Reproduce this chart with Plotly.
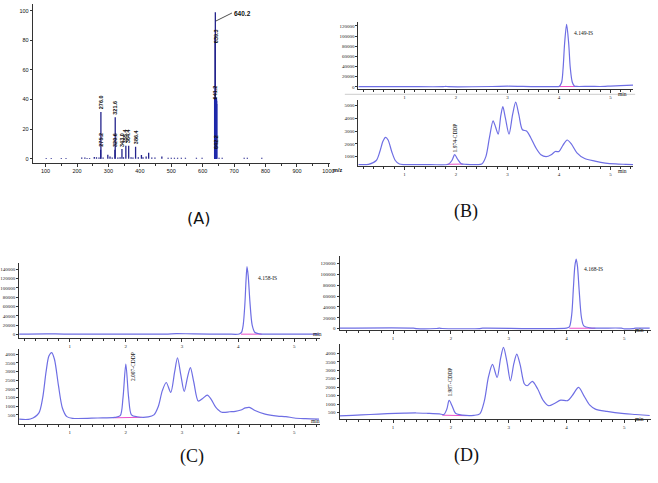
import plotly.graph_objects as go

W, H = 658, 483

# ---------------- DATA ----------------
# (A) mass spectrum: m/z and relative intensity
ms_mz = [102, 118, 150, 165, 215, 225, 232, 240, 255, 262, 270, 275.2, 276.0, 283, 298, 305, 312,
         320.6, 321.6, 330, 337, 343.0, 348, 355.4, 364.4, 372, 378, 386.4, 395, 405, 410, 420, 428,
         438, 448, 470, 490, 500, 510, 520, 532, 545, 580, 598, 638.4, 639.3, 640.2, 642.2, 643.2,
         652, 662, 732, 742, 788]
ms_int = [0.5, 0.5, 0.5, 0.5, 0.8, 0.8, 0.5, 0.5, 1.2, 1.0, 0.8, 6.0, 31.5, 0.8, 2.7, 1.5, 0.8,
          6.0, 28.0, 0.8, 1.0, 6.5, 1.0, 8.8, 8.8, 1.0, 0.8, 8.0, 1.0, 2.5, 1.0, 1.5, 4.0,
          0.8, 0.8, 1.5, 0.6, 0.6, 0.6, 0.6, 0.6, 0.6, 0.6, 0.6, 2.0, 82.0, 99.0, 8.0, 3.0,
          0.6, 0.6, 0.6, 0.6, 0.6]
ms_cluster_mz = [640.6, 641.0, 641.2, 641.5, 641.8]
ms_cluster_int = [41.0, 40.5, 40.0, 39.0, 37.0]
ms_labels = ["276.0", "275.2", "321.6", "320.6", "343.0", "355.4", "364.4", "386.4"]
ms_label_mz = [276.0, 275.2, 321.6, 320.6, 343.0, 355.4, 364.4, 386.4]
ms_label_y = [31.5, 6.0, 28.0, 6.0, 6.0, 8.8, 8.8, 8.0]
ms_main_labels = ["639.3", "641.2", "642.2"]
ms_main_label_y = [83, 45, 11.5]

# (B) chromatograms
b_is_t = [0.10, 1.00, 1.75, 1.80, 1.85, 2.70, 3.00, 3.30, 3.60, 3.95, 4.00, 4.05, 4.08, 4.11, 4.149,
          4.19, 4.22, 4.26, 4.30, 4.35, 4.60, 4.80, 5.00, 5.20, 5.44]
b_is_y = [300, 300, 300, 900, 300, 600, 1200, 700, 300, 300, 600, 8000, 35000, 85000, 123000,
          85000, 38000, 9000, 1800, 700, 1000, 600, 1500, 2500, 3500]
b_t = [0.10, 0.30, 0.45, 0.52, 0.58, 0.63, 0.68, 0.75, 0.82, 0.90, 1.00, 1.50, 1.85, 1.92, 1.974,
       2.03, 2.10, 2.20, 2.40, 2.50, 2.58, 2.65, 2.72, 2.77, 2.82, 2.87, 2.91, 2.96, 3.03, 3.10,
       3.16, 3.22, 3.29, 3.37, 3.45, 3.55, 3.65, 3.75, 3.85, 3.93, 4.00, 4.08, 4.16, 4.24, 4.35,
       4.50, 4.70, 4.90, 5.10, 5.30, 5.44]
b_y = [380, 400, 700, 1400, 2200, 2500, 2300, 1400, 700, 420, 380, 380, 400, 700, 1150,
       800, 450, 400, 380, 420, 1000, 2500, 3800, 3300, 2750, 4200, 4900, 4000, 2750, 4300,
       5250, 4300, 3100, 3000, 2500, 1700, 1150, 1000, 1150, 1400, 1400, 1900, 2300, 2000, 1300,
       850, 650, 500, 430, 400, 380]
b_is_base_t = [4.00, 4.35]
b_is_base_y = [500, 700]
b_base_t = [1.82, 2.13]
b_base_y = [400, 420]

# (C) chromatograms
c_is_t = [0.10, 0.60, 0.90, 2.70, 2.90, 3.20, 3.80, 4.02, 4.06, 4.09, 4.12, 4.14, 4.158, 4.18,
          4.21, 4.25, 4.30, 4.38, 4.50, 5.00, 5.44]
c_is_y = [500, 1000, 500, 500, 1500, 800, 500, 600, 4000, 20000, 65000, 115000, 146000, 125000,
          70000, 20000, 4000, 1000, 500, 500, 300]
c_t = [0.10, 0.30, 0.45, 0.52, 0.58, 0.63, 0.68, 0.73, 0.80, 0.87, 0.95, 1.05, 1.50, 1.80, 1.90,
       1.95, 2.00, 2.05, 2.10, 2.20, 2.40, 2.50, 2.58, 2.65, 2.72, 2.80, 2.87, 2.92, 2.98, 3.04,
       3.10, 3.15, 3.21, 3.29, 3.37, 3.45, 3.52, 3.60, 3.71, 3.85, 3.95, 4.05, 4.13, 4.20, 4.30,
       4.48, 4.70, 4.85, 5.00, 5.20, 5.44]
c_y = [250, 260, 600, 1500, 3000, 3900, 4100, 3700, 2200, 900, 400, 300, 320, 350, 450,
       1500, 3430, 1500, 500, 390, 380, 500, 1000, 1900, 2370, 1800, 3000, 3800, 2800, 1850,
       2700, 3230, 2400, 1300, 1450, 1640, 1400, 950, 650, 680, 700, 780, 900, 930, 750,
       540, 430, 400, 320, 280, 250]
c_is_base_t = [4.05, 4.42]
c_is_base_y = [300, 300]
c_base_t = [1.78, 2.28]
c_base_y = [330, 360]

# (D) chromatograms
d_is_t = [0.07, 1.35, 1.40, 1.75, 1.80, 1.85, 2.50, 2.55, 4.00, 4.05, 4.09, 4.12, 4.145, 4.168,
          4.19, 4.22, 4.26, 4.30, 4.40, 4.60, 4.95, 5.00, 5.15, 5.20, 5.44]
d_is_y = [800, 800, 0, 200, 800, 200, 100, 800, 800, 3000, 25000, 75000, 115000, 128000,
          115000, 70000, 20000, 5000, 1500, 1000, 900, -300, 0, 800, 800]
d_t = [0.07, 0.30, 0.60, 0.90, 1.20, 1.40, 1.60, 1.80, 1.88, 1.93, 1.97, 2.02, 2.08, 2.20, 2.40,
       2.50, 2.58, 2.65, 2.72, 2.80, 2.86, 2.91, 2.97, 3.03, 3.09, 3.14, 3.20, 3.27, 3.32, 3.41,
       3.50, 3.60, 3.69, 3.80, 3.90, 4.02, 4.10, 4.21, 4.30, 4.40, 4.50, 4.70, 5.00, 5.20, 5.44]
d_y = [300, 330, 380, 430, 460, 470, 450, 420, 380, 700, 1210, 900, 450, 340, 330,
       420, 1200, 2600, 3340, 2570, 3700, 4350, 3500, 2370, 3400, 3950, 3300, 2200, 2080, 2340,
       1900, 1200, 900, 1050, 1230, 1200, 1500, 1980, 1500, 950, 700, 560, 430, 380, 320]
d_is_base_t = [4.05, 4.50]
d_is_base_y = [700, 700]
d_base_t = [1.85, 2.27]
d_base_y = [340, 310]

time_ticks = [1, 2, 3, 4, 5]

# ---------------- LAYOUT HELPERS ----------------
def dx(a, b):
    return [a / W, b / W]

def dy(top, bottom):
    return [1 - bottom / H, 1 - top / H]

AX = "#333333"
BLUE = "rgb(110,110,228)"
PINK = "rgb(235,80,200)"
NAVY = "rgb(35,35,140)"
TFONT = dict(family="Liberation Serif", size=5, color="#222")

def xaxis(domain, rng, anchor, tickvals, minor_dtick, font=TFONT):
    return dict(domain=domain, range=rng, anchor=anchor, showgrid=False, zeroline=False,
                showline=True, linecolor=AX, linewidth=1, ticks="outside", ticklen=3,
                tickcolor=AX, tickwidth=1, tickvals=tickvals, tickfont=font, tickformat="d",
                minor=dict(ticks="outside", ticklen=2, dtick=minor_dtick, tickcolor=AX),
                fixedrange=True)

def yaxis(domain, rng, anchor, tickvals, font=TFONT):
    return dict(domain=domain, range=rng, anchor=anchor, showgrid=False, zeroline=False,
                showline=True, linecolor=AX, linewidth=1, ticks="outside", ticklen=2,
                tickcolor=AX, tickwidth=1, tickvals=tickvals, tickfont=font, tickformat="d",
                fixedrange=True)

fig = go.Figure()

# ---------------- (A) ----------------
def stems(xs, ys):
    sx, sy = [], []
    for x, y in zip(xs, ys):
        sx += [x, x, None]
        sy += [0, y, None]
    return sx, sy

sx, sy = stems(ms_mz, ms_int)
fig.add_trace(go.Scatter(x=sx, y=sy, mode="lines", line=dict(color=NAVY, width=1.3),
                         xaxis="x", yaxis="y", hoverinfo="skip", showlegend=False))
cx, cy = stems(ms_cluster_mz, ms_cluster_int)
fig.add_trace(go.Scatter(x=cx, y=cy, mode="lines", line=dict(color="rgb(30,40,170)", width=3),
                         xaxis="x", yaxis="y", hoverinfo="skip", showlegend=False))

# ---------------- chromatogram traces ----------------
def curve(t, y, xa, ya, color=BLUE, width=1.2, spline=True):
    fig.add_trace(go.Scatter(x=t, y=y, mode="lines",
                             line=dict(color=color, width=width,
                                       shape="spline" if spline else "linear", smoothing=0.8),
                             xaxis=xa, yaxis=ya, hoverinfo="skip", showlegend=False))

curve(b_is_base_t, b_is_base_y, "x2", "y2", PINK, 1, False)
curve(b_is_t, b_is_y, "x2", "y2")
curve(b_base_t, b_base_y, "x3", "y3", PINK, 1, False)
curve(b_t, b_y, "x3", "y3")
curve(c_is_base_t, c_is_base_y, "x4", "y4", PINK, 1, False)
curve(c_is_t, c_is_y, "x4", "y4")
curve(c_base_t, c_base_y, "x5", "y5", PINK, 1, False)
curve(c_t, c_y, "x5", "y5")
curve(d_is_base_t, d_is_base_y, "x6", "y6", PINK, 1, False)
curve(d_is_t, d_is_y, "x6", "y6")
curve(d_base_t, d_base_y, "x7", "y7", PINK, 1, False)
curve(d_t, d_y, "x7", "y7")

AFONT = dict(family="Liberation Sans", size=5.5, color="#111")
layout = dict(
    width=W, height=H, autosize=False, margin=dict(l=0, r=0, t=0, b=0, pad=0),
    paper_bgcolor="white", plot_bgcolor="white", showlegend=False,
    xaxis=xaxis(dx(32, 332), [59, 1005], "y", [100, 200, 300, 400, 500, 600, 700, 800, 900, 1000], 50,
                dict(family="Liberation Sans", size=5.5, color="#111")),
    yaxis=yaxis(dy(4, 163), [-2.7, 104.5], "x", [0, 20, 40, 60, 80, 100],
                dict(family="Liberation Sans", size=5.5, color="#111")),
    xaxis2=xaxis(dx(360.7, 638), [0.103, 5.443], "y2", time_ticks, 0.2),
    yaxis2=yaxis(dy(21.7, 88.7), [-3344, 128459], "x2", [0, 20000, 40000, 60000, 80000, 100000, 120000]),
    xaxis3=xaxis(dx(360.7, 638), [0.103, 5.443], "y3", time_ticks, 0.2),
    yaxis3=yaxis(dy(100, 166), [296, 5440], "x3", [1000, 2000, 3000, 4000, 5000]),
    xaxis4=xaxis(dx(18.3, 322), [0.100, 5.459], "y4", time_ticks, 0.2),
    yaxis4=yaxis(dy(264, 338.3), [-7108, 152923], "x4",
                 [0, 20000, 40000, 60000, 80000, 100000, 120000, 140000]),
    xaxis5=xaxis(dx(18.3, 322), [0.100, 5.459], "y5", time_ticks, 0.2),
    yaxis5=yaxis(dy(350, 425), [-35, 4291], "x5", [500, 1000, 1500, 2000, 2500, 3000, 3500, 4000]),
    xaxis6=xaxis(dx(341.7, 656), [0.074, 5.463], "y6", time_ticks, 0.2),
    yaxis6=yaxis(dy(256.7, 331), [-3124, 133415], "x6", [0, 20000, 40000, 60000, 80000, 100000, 120000]),
    xaxis7=xaxis(dx(341.7, 656), [0.074, 5.463], "y7", time_ticks, 0.2),
    yaxis7=yaxis(dy(345, 420), [106, 4534], "x7", [500, 1000, 1500, 2000, 2500, 3000, 3500, 4000]),
)

ann = []
# mass spectrum labels
for txt, x, y in zip(ms_labels, ms_label_mz, ms_label_y):
    ann.append(dict(x=x, y=y + 0.5, xref="x", yref="y", text="<b>%s</b>" % txt, showarrow=False,
                    textangle=-90, yanchor="bottom", font=AFONT))
for txt, y in zip(ms_main_labels, ms_main_label_y):
    ann.append(dict(x=640.2, y=y, xref="x", yref="y", text="<b>%s</b>" % txt, showarrow=False,
                    textangle=-90, font=AFONT))
ann.append(dict(x=642, y=93, xref="x", yref="y", text="<b>640.2</b>", showarrow=True, arrowhead=0,
                arrowwidth=0.8, arrowcolor="#222", ax=16, ay=-8, xanchor="left",
                font=dict(family="Liberation Sans", size=6.5, color="#111")))
ann.append(dict(x=340 / W, y=1 - 170 / H, xref="paper", yref="paper", text="<b>m/z</b>",
                showarrow=False, font=AFONT))

SF = dict(family="Liberation Serif", size=5.5, color="#111")
ann += [
    dict(x=4.48, y=106230, xref="x2", yref="y2", text="4.149-IS", showarrow=False, font=SF),
    dict(x=4.52, y=120600, xref="x4", yref="y4", text="4.158-IS", showarrow=False, font=SF),
    dict(x=4.47, y=108970, xref="x6", yref="y6", text="4.168-IS", showarrow=False, font=SF),
    dict(x=1.976, y=2480, xref="x3", yref="y3", text="1.974-CDDP", textangle=-90, showarrow=False, font=SF),
    dict(x=2.124, y=3310, xref="x5", yref="y5", text="2.007-CDDP", textangle=-90, showarrow=False, font=SF),
    dict(x=1.99, y=2290, xref="x7", yref="y7", text="1.987-CDDP", textangle=-90, showarrow=False, font=SF),
]
for (px, py) in [(634, 89), (634, 171), (319, 340), (317, 427), (651, 336), (651, 425)]:
    ann.append(dict(x=px / W, y=1 - py / H, xref="paper", yref="paper", text="min",
                    showarrow=False, font=SF))

# panel labels
ann += [
    dict(x=186 / W, y=1 - 219 / H, xref="paper", yref="paper", text="(A)", showarrow=False,
         font=dict(family="DejaVu Sans", size=16, color="#111")),
    dict(x=483 / W, y=1 - 212 / H, xref="paper", yref="paper", text="(B)", showarrow=False,
         font=dict(family="Liberation Serif", size=18, color="#111")),
    dict(x=179 / W, y=1 - 470 / H, xref="paper", yref="paper", text="(C)", showarrow=False,
         font=dict(family="Liberation Serif", size=18, color="#111")),
    dict(x=484 / W, y=1 - 469 / H, xref="paper", yref="paper", text="(D)", showarrow=False,
         font=dict(family="Liberation Serif", size=18, color="#111")),
]
layout["annotations"] = ann
layout["shapes"] = [dict(type="line", xref="paper", yref="paper", x0=347 / W, x1=640 / W,
                         y0=1 - 94.5 / H, y1=1 - 94.5 / H, line=dict(color="#cccccc", width=1))]

fig.update_layout(**layout)
fig.write_html("out.html")
